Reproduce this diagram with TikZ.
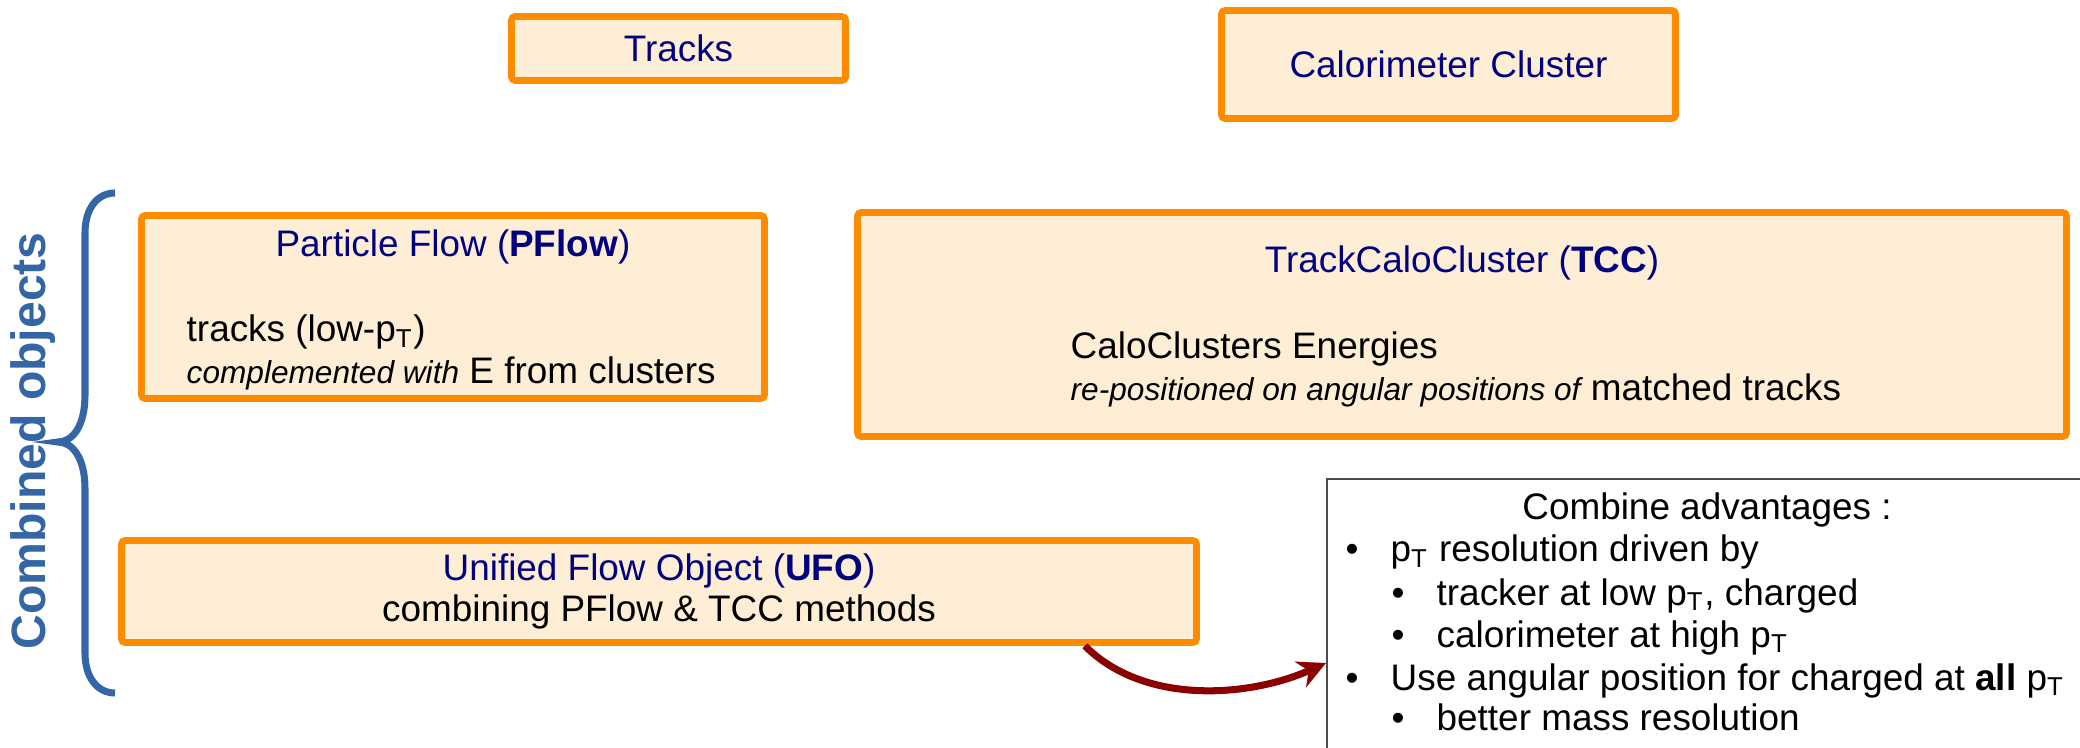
\documentclass[tikz,border=0pt]{standalone}
\usepackage{fontspec}
\setmainfont{Liberation Sans}
\usetikzlibrary{arrows.meta}
\definecolor{boxorange}{HTML}{FF8C00}
\definecolor{boxfill}{HTML}{FFEED6}
\definecolor{titlenavy}{HTML}{000080}
\definecolor{braceblue}{HTML}{3465A4}
\definecolor{arrowred}{HTML}{8B0000}
\tikzset{
  flowbox/.style={draw=boxorange, fill=boxfill, line width=1.9pt, rounded corners=1pt, inner sep=0pt},
  title/.style={text=titlenavy},
  body/.style={anchor=base west, inner sep=0pt},
  advbox/.style={draw=black!70, line width=0.6pt, anchor=north west, minimum width=8cm, minimum height=3.5cm},
  flowarrow/.style={->, >={Stealth[length=2.8mm,width=2.8mm]}, draw=arrowred, line width=2pt},
  combbrace/.style={draw=braceblue, line width=2pt},
}
\begin{document}
\begin{tikzpicture}[font=\fontsize{10.5}{11.6}\selectfont]
        \useasboundingbox (0,0) rectangle (20.8,7.47);
        \clip (0,0) rectangle (20.8,7.47);
        %%%%%%%%%% Boxes %%%%%%%%%%
        \node[flowbox, minimum width=3.34cm, minimum height=0.64cm, title] (tracks) at (6.785,6.985) {Tracks};
        \node[flowbox, minimum width=4.54cm, minimum height=1.08cm, title] (calo) at (14.485,6.825) {Calorimeter Cluster};
        \node[flowbox, minimum width=6.23cm, minimum height=1.83cm] (pflow) at (4.53,4.40) {};
        \node[flowbox, minimum width=12.09cm, minimum height=2.24cm] (tcc) at (14.62,4.225) {};
        \node[flowbox, minimum width=10.75cm, minimum height=1.02cm, align=center] (ufo) at (6.59,1.555) {\textcolor{titlenavy}{Unified Flow Object (\textbf{UFO})}\\combining PFlow \& TCC methods};

        %%%%%%%%%% Texts %%%%%%%%%%
        \node[title] (pflowtitle) at (4.53,5.00) {Particle Flow (\textbf{PFlow})};
        \node[body] (pflowA) at (1.86,4.05) {tracks (low-p\textsubscript{T})};
        \node[body] (pflowB) at (1.86,3.64) {{\fontsize{9}{10}\selectfont\itshape complemented with} E from clusters};
        \node[title] (tcctitle) at (14.62,4.84) {TrackCaloCluster (\textbf{TCC})};
        \node[body] (tccA) at (10.70,3.89) {CaloClusters Energies};
        \node[body] (tccB) at (10.70,3.47) {{\fontsize{9}{10}\selectfont\itshape re-positioned on angular positions of} matched tracks};

        %%%%%%%%%% Advantages %%%%%%%%%%
        \node[advbox] (adv) at (13.26,2.69) {};
        \node (advtitle) at (17.07,2.37) {Combine advantages :};
        \node[body] (advA) at (13.45,1.85) {\makebox[4.5mm][l]{\textbullet}p\textsubscript{T} resolution driven by};
        \node[body] (advB) at (13.91,1.42) {\makebox[4.5mm][l]{\textbullet}tracker at low p\textsubscript{T}, charged};
        \node[body] (advC) at (13.91,1.00) {\makebox[4.5mm][l]{\textbullet}calorimeter at high p\textsubscript{T}};
        \node[body] (advD) at (13.45,0.57) {\makebox[4.5mm][l]{\textbullet}Use angular position for charged at \textbf{all} p\textsubscript{T}};
        \node[body] (advE) at (13.91,0.17) {\makebox[4.5mm][l]{\textbullet}better mass resolution};

        %%%%%%%%%% Brace %%%%%%%%%%
        \coordinate (braceTop) at (1.15,5.54);
        \coordinate (braceTip) at (0.58,3.05);
        \coordinate (braceBot) at (1.15,0.54);
        \draw[combbrace] (braceTop) .. controls (0.97,5.54) and (0.85,5.38) .. (0.85,5.14)
              -- (0.85,3.52) .. controls (0.85,3.2) and (0.72,3.05) .. (braceTip)
              .. controls (0.72,3.05) and (0.85,2.9) .. (0.85,2.58)
              -- (0.85,0.94) .. controls (0.85,0.70) and (0.97,0.54) .. (braceBot);
        \node[rotate=90, text=braceblue, font=\fontsize{13.7}{16}\selectfont\bfseries] (combined) at (0.33,3.06) {Combined objects};

        %%%%%%%%%% Arrow %%%%%%%%%%
        \draw[flowarrow] ([xshift=-1.15cm]ufo.south east) .. controls +(0.6,-0.6) and +(-0.76,-0.34) .. ([yshift=-1.85cm]adv.north west);
    \end{tikzpicture}
\end{document}
